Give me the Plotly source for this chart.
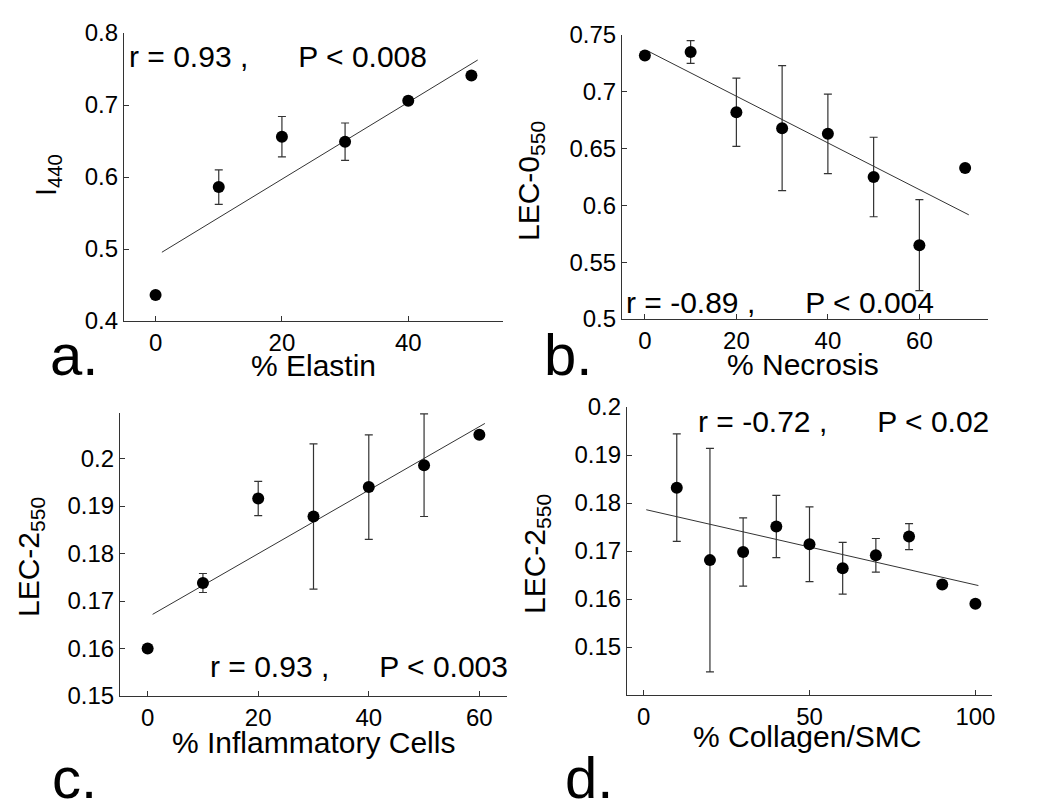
import plotly.graph_objects as go

W, H = 1050, 807

# ---------------- data ----------------
elastin_x = [0, 10, 20, 30, 40, 50]
elastin_y = [0.436, 0.586, 0.656, 0.649, 0.706, 0.741]
elastin_err = [0.004, 0.024, 0.028, 0.026, 0.005, 0.003]
elastin_fit_x = [1, 51]
elastin_fit_y = [0.4955, 0.7625]

necrosis_x = [0, 10, 20, 30, 40, 50, 60, 70]
necrosis_y = [0.732, 0.735, 0.682, 0.668, 0.663, 0.625, 0.565, 0.633]
necrosis_err = [0.002, 0.010, 0.030, 0.055, 0.035, 0.035, 0.040, 0.002]
necrosis_fit_x = [0.6, 70.8]
necrosis_fit_y = [0.736, 0.5917]

inflam_x = [0, 10, 20, 30, 40, 50, 60]
inflam_y = [0.160, 0.1738, 0.1916, 0.1878, 0.1940, 0.1986, 0.2050]
inflam_err = [0.0005, 0.002, 0.0036, 0.0153, 0.011, 0.0108, 0.0005]
inflam_fit_x = [0.9, 61]
inflam_fit_y = [0.1672, 0.2074]

collagen_x = [10, 20, 30, 40, 50, 60, 70, 80, 90, 100]
collagen_y = [0.1832, 0.1681, 0.1698, 0.1751, 0.1714, 0.1664, 0.1691, 0.1730, 0.1630, 0.1590]
collagen_err = [0.0112, 0.0233, 0.0071, 0.0065, 0.0078, 0.0054, 0.0035, 0.0027, 0.0005, 0.0005]
collagen_fit_x = [0.8, 100.9]
collagen_fit_y = [0.1786, 0.1628]

ticks_a_x = [0, 20, 40]
ticks_a_y = [0.4, 0.5, 0.6, 0.7, 0.8]
ticks_a_ytext = ["0.4", "0.5", "0.6", "0.7", "0.8"]
ticks_b_x = [0, 20, 40, 60]
ticks_b_y = [0.5, 0.55, 0.6, 0.65, 0.7, 0.75]
ticks_b_ytext = ["0.5", "0.55", "0.6", "0.65", "0.7", "0.75"]
ticks_c_x = [0, 20, 40, 60]
ticks_c_y = [0.15, 0.16, 0.17, 0.18, 0.19, 0.20]
ticks_c_ytext = ["0.15", "0.16", "0.17", "0.18", "0.19", "0.2"]
ticks_d_x = [0, 50, 100]
ticks_d_y = [0.15, 0.16, 0.17, 0.18, 0.19, 0.20]
ticks_d_ytext = ["0.15", "0.16", "0.17", "0.18", "0.19", "0.2"]

stats_a = "r = 0.93 ,      P < 0.008"
stats_b = "r = -0.89 ,      P < 0.004"
stats_c = "r = 0.93 ,      P < 0.003"
stats_d = "r = -0.72 ,      P < 0.02"

# ---------------- style ----------------
FONT = "Liberation Sans, Arial, Helvetica, sans-serif"
TICK_FS = 24
TITLE_FS = 30
YTITLE_FS = 30
STAT_FS = 30
LETTER_FS = 58
LINE_C = "#333333"


def px(x):
    return x / W


def py(y):
    return 1 - y / H


panels = [
    ("", elastin_x, elastin_y, elastin_err, elastin_fit_x, elastin_fit_y,
     [-5, 55], [0.4, 0.8], ticks_a_x, ticks_a_y, ticks_a_ytext, (124, 503, 33, 321)),
    ("2", necrosis_x, necrosis_y, necrosis_err, necrosis_fit_x, necrosis_fit_y,
     [-5, 75], [0.5, 0.75], ticks_b_x, ticks_b_y, ticks_b_ytext, (622, 988, 35, 319)),
    ("3", inflam_x, inflam_y, inflam_err, inflam_fit_x, inflam_fit_y,
     [-5, 65], [0.15, 0.2096], ticks_c_x, ticks_c_y, ticks_c_ytext, (120, 507, 413, 696)),
    ("4", collagen_x, collagen_y, collagen_err, collagen_fit_x, collagen_fit_y,
     [-5, 105], [0.14, 0.2], ticks_d_x, ticks_d_y, ticks_d_ytext, (627, 992, 407, 695)),
]

fig = go.Figure()
layout = {}
for suf, xs, ys, es, fx, fy, xr, yr, xt, yt, ytt, (l, r, t, b) in panels:
    xa = "x" + suf
    ya = "y" + suf
    fig.add_trace(go.Scatter(
        x=fx, y=fy, mode="lines", xaxis=xa, yaxis=ya,
        line=dict(color=LINE_C, width=1), showlegend=False, hoverinfo="skip"))
    fig.add_trace(go.Scatter(
        x=xs, y=ys, mode="markers", xaxis=xa, yaxis=ya,
        marker=dict(color="black", size=12, symbol="circle"),
        error_y=dict(type="data", array=es, visible=True, color=LINE_C,
                     thickness=1.2, width=4),
        showlegend=False))
    common = dict(showgrid=False, zeroline=False, showline=True, linecolor=LINE_C,
                  linewidth=1.2, ticks="inside", ticklen=5, tickwidth=1,
                  tickcolor=LINE_C, mirror=False, automargin=False,
                  tickfont=dict(family=FONT, size=TICK_FS, color="black"))
    layout["xaxis" + suf] = dict(common, domain=[px(l), px(r)], range=xr,
                                 tickvals=xt, anchor=ya)
    layout["yaxis" + suf] = dict(common, domain=[py(b), py(t)], range=yr,
                                 tickvals=yt, ticktext=ytt, anchor=xa)

annotations = []


def ann(text, x, y, fs, xanchor="center", yanchor="middle", angle=0):
    annotations.append(dict(text=text, x=px(x), y=py(y), xref="paper", yref="paper",
                            xanchor=xanchor, yanchor=yanchor, showarrow=False,
                            textangle=angle,
                            font=dict(family=FONT, size=fs, color="black")))


def base(bl, fs):
    # vertical centre of text box from its baseline
    return bl - 0.35 * fs


# stats text
ann(stats_a, 127, base(67, STAT_FS), STAT_FS, xanchor="left")
ann(stats_b, 624, base(313, STAT_FS), STAT_FS, xanchor="left")
ann(stats_c, 208, base(677, STAT_FS), STAT_FS, xanchor="left")
ann(stats_d, 696, base(432, STAT_FS), STAT_FS, xanchor="left")

# x titles
ann("% Elastin", 313, base(376, TITLE_FS), TITLE_FS)
ann("% Necrosis", 803, base(375, TITLE_FS), TITLE_FS)
ann("% Inflammatory Cells", 313, base(753, TITLE_FS), TITLE_FS)
ann("% Collagen/SMC", 807, base(747, TITLE_FS), TITLE_FS)

# y titles (rotated)
ann("I<sub>440</sub>", 48, 175, 29, angle=-90)
ann("LEC-0<sub>550</sub>", 531, 181, YTITLE_FS, angle=-90)
ann("LEC-2<sub>550</sub>", 30, 557, YTITLE_FS, angle=-90)
ann("LEC-2<sub>550</sub>", 536, 554, YTITLE_FS, angle=-90)

# panel letters
ann("a.", 48, base(375, LETTER_FS), LETTER_FS, xanchor="left")
ann("b.", 542, base(375, LETTER_FS), LETTER_FS, xanchor="left")
ann("c.", 50, base(798, LETTER_FS), LETTER_FS, xanchor="left")
ann("d.", 563, base(798, LETTER_FS), LETTER_FS, xanchor="left")

fig.update_layout(
    template="none",
    width=W, height=H, margin=dict(l=0, r=0, t=0, b=0, pad=0, autoexpand=False),
    paper_bgcolor="white", plot_bgcolor="white",
    annotations=annotations, **layout)

fig.write_html(
    "out.html",
    config={"displayModeBar": False},
    post_script="document.body.style.margin='0';document.body.style.padding='0';"
                "document.body.style.overflow='hidden';",
)
